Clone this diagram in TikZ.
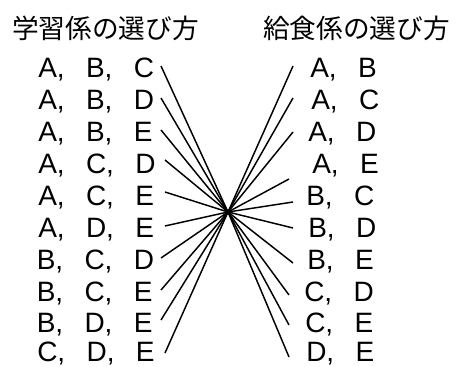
\documentclass[tikz,border=0pt]{standalone}
\usepackage{fontspec}
\setmainfont{Liberation Sans}
\newfontfamily\jpfont{Noto Sans CJK JP}
\newcommand\itmsep{,\kern16pt}
\begin{document}
\begin{tikzpicture}[x=0.75pt,y=-0.75pt,
  item/.style={anchor=base west,inner sep=0,font=\fontsize{21}{21}\selectfont},
  head/.style={anchor=west,inner sep=0,font=\jpfont\fontsize{20}{20}\selectfont},
  conn/.style={line width=1.1pt}]
\useasboundingbox (0,0) rectangle (458,367);
\node[head] (hl) at (12,28) {学習係の選び方};
\node[head] (hr) at (263,28) {給食係の選び方};
% left items
\node[item] (a1) at (38,78) {A\itmsep B\itmsep C};
\node[item] (a2) at (38,110) {A\itmsep B\itmsep D};
\node[item] (a3) at (38,142) {A\itmsep B\itmsep E};
\node[item] (a4) at (38,174) {A\itmsep C\itmsep D};
\node[item] (a5) at (38,206) {A\itmsep C\itmsep E};
\node[item] (a6) at (38,238) {A\itmsep D\itmsep E};
\node[item] (a7) at (36.5,270) {B\itmsep C\itmsep D};
\node[item] (a8) at (36.5,302) {B\itmsep C\itmsep E};
\node[item] (a9) at (36.5,333) {B\itmsep D\itmsep E};
\node[item] (a10) at (37,362) {C\itmsep D\itmsep E};
% right items
\node[item] (b1) at (310,78) {A\itmsep B};
\node[item] (b2) at (311,110) {A\itmsep C};
\node[item] (b3) at (308,142) {A\itmsep D};
\node[item] (b4) at (312,174) {A\itmsep E};
\node[item] (b5) at (306,206) {B\itmsep C};
\node[item] (b6) at (308,238) {B\itmsep D};
\node[item] (b7) at (307,270) {B\itmsep E};
\node[item] (b8) at (304,302) {C\itmsep D};
\node[item] (b9) at (305,333) {C\itmsep E};
\node[item] (b10) at (306,362) {D\itmsep E};
% connector ends
\coordinate (X) at (228,212);
\coordinate (L1) at (161,66);
\coordinate (L2) at (161,98);
\coordinate (L3) at (161,130);
\coordinate (L4) at (165,160);
\coordinate (L5) at (165,192);
\coordinate (L6) at (165,226);
\coordinate (L7) at (161,258);
\coordinate (L8) at (161,290);
\coordinate (L9) at (161,320);
\coordinate (L10) at (165,353);
\coordinate (R1) at (293,66);
\coordinate (R2) at (293,98);
\coordinate (R3) at (293,132);
\coordinate (R4) at (289,179);
\coordinate (R5) at (293,202);
\coordinate (R6) at (293,228);
\coordinate (R7) at (293,263);
\coordinate (R8) at (289,295);
\coordinate (R9) at (289,325);
\coordinate (R10) at (289,357);
\foreach \i in {1,...,10}{
  \draw[conn] (L\i) -- (X);
  \draw[conn] (X) -- (R\i);
}
\end{tikzpicture}
\end{document}
